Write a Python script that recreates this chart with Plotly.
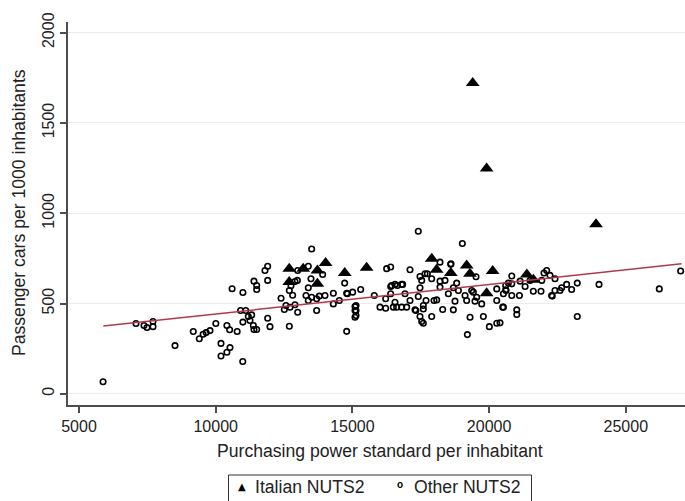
import plotly.graph_objects as go

# Italian NUTS2 regions: PPS per inhabitant vs passenger cars per 1000 inhabitants
italy_pps = [12690, 12690, 13200, 13720, 13720, 14020, 14720, 15520, 17900, 18080,
             18600, 19180, 19300, 19910, 20130, 21380, 21620, 23910, 19400, 19910]
italy_cars = [693, 619, 693, 683, 609, 724, 669, 698, 748, 687,
              669, 711, 665, 557, 680, 661, 632, 939, 1721, 1248]

# Other NUTS2 regions
other_pps = [
    5880, 7085, 7378, 7487, 7707, 7707, 8512, 9180, 9400, 9540,
    9650, 9792, 10005, 10194, 10194, 10410, 10523, 10410, 10510, 10785,
    10600, 10995, 10990, 10910, 11100, 10995, 11193, 11316, 11254, 11376,
    11400, 11500, 11400, 11500, 11500, 11901, 11803, 11901, 11901, 11986,
    12390, 12510, 12693, 12717, 12900, 12998, 12815, 12693, 12754, 12900,
    12998, 13387, 13510, 13387, 13485, 13303, 13387, 13510, 13693, 13693,
    13790, 13998, 14303, 14303, 14522, 13913, 14717, 14791, 14791, 12986,
    12570, 15132, 15132, 15132, 14815, 15010, 15303, 15801, 16009, 16217,
    16253, 16400, 16217, 16400, 16558, 16802, 16400, 16497, 16619, 16802,
    16985, 16558, 16924, 17107, 17107, 17290, 17410, 17473, 17473, 17535,
    17473, 17535, 17594, 17594, 17693, 17741, 17900, 17985, 17900, 18083,
    18204, 18204, 18204, 18302, 18387, 18509, 18606, 18692, 18753, 18814,
    18692, 19120, 19180, 19302, 19205, 19423, 19485, 19546, 19521, 19729,
    19790, 20009, 20280, 20498, 20280, 20280, 20607, 20607, 20705, 19363,
    18876, 17410, 19021, 17594, 16436, 16643, 16838, 17320, 18595, 17656,
    27006, 26225, 24020, 23225, 23225, 23019, 22836, 22593, 22410, 22310,
    22410, 22106, 22008, 22227, 21898, 21617, 21317, 21134, 20829, 20829,
    20621, 20523, 20523, 20829, 21109, 21012, 21012, 20399, 22654, 21500,
    21927, 22287, 15095, 15095, 15095,
]
other_cars = [
    67, 389, 378, 367, 400, 372, 267, 345, 305, 330,
    339, 350, 389, 279, 209, 230, 256, 378, 355, 345,
    582, 561, 179, 461, 461, 397, 428, 437, 406, 378,
    356, 356, 624, 600, 578, 628, 683, 706, 418, 372,
    529, 467, 374, 479, 493, 452, 546, 572, 598, 622,
    683, 706, 802, 587, 637, 544, 517, 535, 526, 461,
    541, 544, 557, 498, 517, 661, 613, 557, 346, 628,
    489, 489, 461, 433, 554, 563, 578, 544, 480, 474,
    693, 702, 526, 594, 606, 606, 554, 480, 480, 480,
    480, 507, 554, 517, 687, 465, 539, 587, 650, 628,
    428, 400, 391, 489, 517, 665, 637, 517, 428, 520,
    729, 591, 624, 467, 628, 554, 720, 465, 513, 613,
    587, 544, 517, 424, 328, 563, 513, 535, 648, 498,
    428, 372, 391, 480, 581, 517, 576, 600, 613, 572,
    572, 900, 832, 470, 600, 600, 606, 461, 717, 665,
    680, 581, 606, 428, 613, 578, 606, 572, 572, 541,
    637, 683, 669, 656, 568, 568, 594, 624, 652, 609,
    572, 554, 480, 544, 544, 465, 439, 393, 587, 628,
    628, 544, 483, 461, 424,
]

# Linear fit of car ownership on PPS (all regions)
fit_intercept = 279.0
fit_slope = 0.01631
fit_x = [5890, 27040]
fit_y = [fit_intercept + fit_slope * v for v in fit_x]

x_ticks = [5000, 10000, 15000, 20000, 25000]
y_ticks = [0, 500, 1000, 1500, 2000]

legend_labels = ["Italian NUTS2", "Other NUTS2"]

FONT = "Liberation Sans, Arial, sans-serif"
SYM_FONT = "DejaVu Sans, sans-serif"
TEXT = "#222222"
AXIS = "#4d4d4d"
TITLE_SIZE = 17.6
TICK_SIZE = 16

# Plot-area geometry in pixels (used to place the legend box below the axis)
W, H = 685, 501
ML, MR, MT, MB = 68, 0, 22, 96
PW, PH = W - ML - MR, H - MT - MB


def px_x(p):
    return (p - ML) / PW


def px_y(p):
    return (H - MB - p) / PH


fig = go.Figure()

fig.add_trace(go.Scatter(
    x=italy_pps, y=italy_cars, mode="markers", name=legend_labels[0],
    marker=dict(symbol="triangle-up", size=12, color="black",
                line=dict(width=0)),
))
fig.add_trace(go.Scatter(
    x=other_pps, y=other_cars, mode="markers", name=legend_labels[1],
    marker=dict(symbol="circle-open", size=5.5, color="black",
                line=dict(width=1.6, color="black")),
))
fig.add_trace(go.Scatter(
    x=fit_x, y=fit_y, mode="lines", showlegend=False,
    line=dict(color="#b03a4c", width=1.5), hoverinfo="skip",
))

# Legend box, drawn as a framed key under the axis title
legend_top = 475
key_y = px_y(487)
shapes = [dict(type="rect", xref="paper", yref="paper",
               x0=px_x(228.5), x1=px_x(531.5), y0=px_y(512), y1=px_y(legend_top),
               line=dict(color="#333333", width=1), fillcolor="rgba(0,0,0,0)",
               layer="above")]
annotations = [
    dict(text="\u25B2", xref="paper", yref="paper", x=px_x(241.7), y=px_y(486),
         xanchor="center", yanchor="middle", showarrow=False,
         font=dict(family=SYM_FONT, size=10, color="black")),
    dict(text=legend_labels[0], xref="paper", yref="paper", x=px_x(252.5), y=key_y,
         xanchor="left", yanchor="middle", showarrow=False,
         font=dict(family=FONT, size=TITLE_SIZE, color=TEXT)),
    dict(text="<b>o</b>", xref="paper", yref="paper", x=px_x(400), y=px_y(484.5),
         xanchor="center", yanchor="middle", showarrow=False,
         font=dict(family=FONT, size=10, color="black")),
    dict(text=legend_labels[1], xref="paper", yref="paper", x=px_x(411.5), y=key_y,
         xanchor="left", yanchor="middle", showarrow=False,
         font=dict(family=FONT, size=TITLE_SIZE, color=TEXT)),
    dict(text="Purchasing power standard per inhabitant",
         xref="paper", yref="paper", x=px_x(380), y=px_y(451),
         xanchor="center", yanchor="middle", showarrow=False,
         font=dict(family=FONT, size=TITLE_SIZE, color=TEXT)),
    dict(text="Passenger cars per 1000 inhabitants",
         xref="paper", yref="paper", x=px_x(18.5), y=px_y(212.5),
         xanchor="center", yanchor="middle", showarrow=False,
         textangle=-90,
         font=dict(family=FONT, size=TITLE_SIZE, color=TEXT)),
]

fig.update_layout(
    width=W, height=H,
    margin=dict(l=ML, r=MR, t=MT, b=MB, autoexpand=False),
    paper_bgcolor="white", plot_bgcolor="white",
    font=dict(family=FONT, size=TICK_SIZE, color=TEXT),
    showlegend=False,
    xaxis=dict(
        range=[4598, 27165], tickvals=x_ticks,
        ticktext=[str(v) for v in x_ticks],
        showgrid=False, zeroline=False,
        showline=True, linecolor=AXIS, linewidth=1.5,
        ticks="outside", ticklen=6, tickcolor=AXIS, tickwidth=1.5,
        tickfont=dict(family=FONT, size=TICK_SIZE, color=TEXT),
    ),
    yaxis=dict(
        range=[-62, 2059], tickvals=y_ticks,
        ticktext=[str(v) for v in y_ticks], tickangle=-90,
        showgrid=True, gridcolor="#e6eef0", gridwidth=1, zeroline=False,
        showline=True, linecolor=AXIS, linewidth=1.5,
        ticks="outside", ticklen=6, tickcolor=AXIS, tickwidth=1.5,
        tickfont=dict(family=FONT, size=TICK_SIZE, color=TEXT),
    ),
    shapes=shapes,
    annotations=annotations,
)

fig.write_html("out.html")
